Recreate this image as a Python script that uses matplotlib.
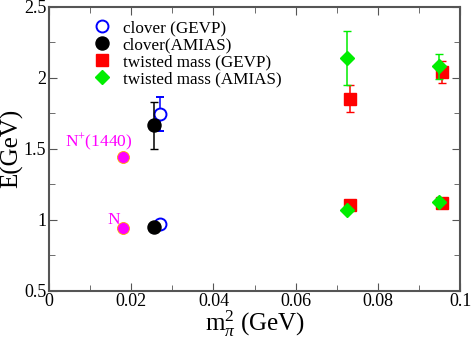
import matplotlib.pyplot as plt
from matplotlib.ticker import MultipleLocator

plt.rcParams['font.family'] = ['Liberation Serif', 'DejaVu Serif']
plt.rcParams['mathtext.fontset'] = 'custom'
plt.rcParams['mathtext.rm'] = 'Liberation Serif'
plt.rcParams['mathtext.it'] = 'Liberation Serif:italic'

# clover (GEVP)
clov_gevp_x = [0.027, 0.027]
clov_gevp_y = [1.747, 0.967]
clov_gevp_err = [0.12, 0.0]

# clover (AMIAS)
clov_amias_x = [0.0255, 0.0255]
clov_amias_y = [1.664, 0.946]
clov_amias_err = [0.165, 0.0]

# twisted mass (GEVP)
tm_gevp_x = [0.0732, 0.0956, 0.0732, 0.0956]
tm_gevp_y = [1.852, 2.04, 1.106, 1.12]
tm_gevp_err = [0.095, 0.08, 0.0, 0.0]

# twisted mass (AMIAS)
tm_amias_x = [0.0725, 0.0949, 0.0725, 0.0949]
tm_amias_y = [2.137, 2.08, 1.07, 1.126]
tm_amias_err = [0.19, 0.09, 0.0, 0.0]

# physical nucleon states
phys_x = [0.018, 0.018]
phys_y = [1.44, 0.939]
phys_labels = ['N$^{+}$(1440)', 'N']

fig, ax = plt.subplots(figsize=(4.71, 3.42), dpi=100)
fig.subplots_adjust(left=0.104, right=0.977, bottom=0.15, top=0.98)

ax.errorbar(tm_gevp_x, tm_gevp_y, yerr=tm_gevp_err, fmt='s', color='red', ms=8,
            ecolor='red', elinewidth=1.1, capsize=3, label='twisted mass (GEVP)', zorder=3)
ax.errorbar(tm_amias_x, tm_amias_y, yerr=tm_amias_err, fmt='D', color='#00ee00', ms=6.8,
            ecolor='#00ee00', elinewidth=1.1, capsize=3, label='twisted mass (AMIAS)', zorder=4)
ax.errorbar(clov_gevp_x, clov_gevp_y, yerr=clov_gevp_err, fmt='o', mfc='white', mec='blue',
            mew=1.4, ms=8.6, ecolor='blue', elinewidth=1.1, capsize=3,
            label='clover (GEVP)', zorder=3)
ax.errorbar(clov_amias_x, clov_amias_y, yerr=clov_amias_err, fmt='o', color='black', ms=9.4,
            ecolor='black', elinewidth=1.1, capsize=3, label='clover(AMIAS)', zorder=4)
ax.plot(phys_x, phys_y, 'o', mfc='magenta', mec='orange', mew=0.6, ms=8.6, ls='none', zorder=4)

ax.text(0.0039, 1.515, phys_labels[0], color='magenta', fontsize=12.5)
ax.text(0.0141, 0.967, phys_labels[1], color='magenta', fontsize=12.5)

handles, labels = ax.get_legend_handles_labels()
order = [2, 3, 0, 1]
ax.legend([handles[i][0] for i in order], [labels[i] for i in order],
          loc='upper left', bbox_to_anchor=(0.1, 0.958), frameon=False, fontsize=12.3,
          handletextpad=0.6, handlelength=1.2, labelspacing=0.05, borderaxespad=0.0,
          borderpad=0.1)

ax.set_xlim(0, 0.1)
ax.set_ylim(0.5, 2.5)
ax.set_xticks([0, 0.02, 0.04, 0.06, 0.08, 0.1])
ax.set_xticklabels(['0', '0.02', '0.04', '0.06', '0.08', '0.1'])
ax.set_yticks([0.5, 1, 1.5, 2, 2.5])
ax.set_yticklabels(['0.5', '1', '1.5', '2', '2.5'])
ax.xaxis.set_minor_locator(MultipleLocator(0.01))
ax.yaxis.set_minor_locator(MultipleLocator(0.25))
ax.tick_params(which='both', direction='in', top=True, right=True, labelsize=13,
               color='#555555', pad=2)
ax.tick_params(which='major', length=6)
ax.tick_params(which='minor', length=4)
for s in ax.spines.values():
    s.set_color('#555555')
    s.set_linewidth(1.5)

ax.set_xlabel(r'm$_{\pi}^{2}$ (GeV)', fontsize=18, labelpad=-1)
ax.set_ylabel('E(GeV)', fontsize=18, labelpad=0)

fig.savefig('out.png', dpi=100)
